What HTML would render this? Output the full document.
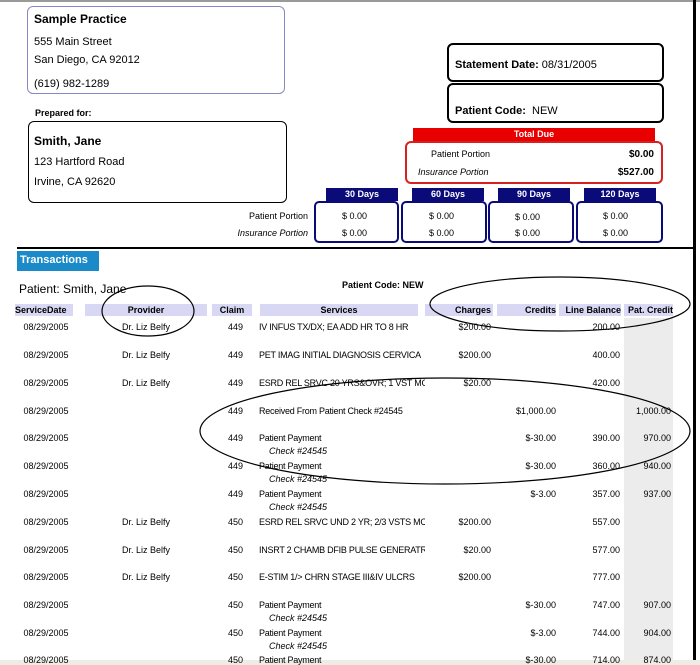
<!DOCTYPE html>
<html><head><meta charset="utf-8"><style>
*{margin:0;padding:0;box-sizing:border-box}
body{width:700px;height:665px;background:#fff;position:relative;overflow:hidden;font-family:"Liberation Sans",sans-serif;color:#000}
.a{position:absolute;white-space:nowrap}
.box{position:absolute;border-radius:6px}
.t9{font-size:9px}
.r{text-align:right}
.c{text-align:center}
.hd{position:absolute;top:304px;height:12px;background:#d8d8f4;font-size:9px;font-weight:bold;line-height:12px}
.nv{position:absolute;top:188px;height:13px;background:#0a0a78;color:#fff;font-size:9px;font-weight:bold;text-align:center;line-height:13px}
.ag{position:absolute;top:201px;height:42px;border:2px solid #0a0a78;border-radius:5px;font-size:10px}
</style></head><body>
<div class="a" style="left:0;top:0;width:700px;height:2px;background:#999"></div>
<div class="a" style="left:693px;top:0;width:3px;height:660px;background:#000"></div>
<div class="a" style="left:0;top:660px;width:700px;height:5px;background:#eeece4"></div>

<div class="box" style="left:27px;top:6px;width:258px;height:88px;border:1px solid #8888c8"></div>
<div class="a" style="left:34px;top:12px;font-size:12px;font-weight:bold">Sample Practice</div>
<div class="a" style="left:34px;top:36px;font-size:11px">555 Main Street</div>
<div class="a" style="left:34px;top:54px;font-size:11px">San Diego, CA 92012</div>
<div class="a" style="left:34px;top:78px;font-size:11px">(619) 982-1289</div>
<div class="a" style="left:35px;top:108px;font-size:9px;font-weight:bold">Prepared for:</div>
<div class="box" style="left:28px;top:121px;width:259px;height:82px;border:1px solid #000"></div>
<div class="a" style="left:34px;top:134px;font-size:12px;font-weight:bold">Smith, Jane</div>
<div class="a" style="left:34px;top:156px;font-size:11px">123 Hartford Road</div>
<div class="a" style="left:34px;top:176px;font-size:11px">Irvine, CA 92620</div>

<div class="box" style="left:447px;top:43px;width:217px;height:39px;border:2px solid #000"></div>
<div class="a" style="left:455px;top:59px;font-size:11px"><b>Statement Date:</b> 08/31/2005</div>
<div class="box" style="left:447px;top:83px;width:217px;height:40px;border:2px solid #000"></div>
<div class="a" style="left:455px;top:105px;font-size:11px"><b>Patient Code:</b> &nbsp;NEW</div>

<div class="a" style="left:413px;top:128px;width:242px;height:13px;background:#e80000;color:#fff;font-size:9px;font-weight:bold;text-align:center;line-height:13px">Total Due</div>
<div class="box" style="left:405px;top:141px;width:258px;height:43px;border:2px solid #d82020"></div>
<div class="a t9" style="left:431px;top:149px">Patient Portion</div>
<div class="a t9" style="left:418px;top:167px;font-style:italic">Insurance Portion</div>
<div class="a r" style="left:580px;width:74px;top:149px;font-size:10px;font-weight:bold">$0.00</div>
<div class="a r" style="left:580px;width:74px;top:167px;font-size:10px;font-weight:bold">$527.00</div>

<div class="nv" style="left:326px;width:72px">30 Days</div>
<div class="nv" style="left:412px;width:72px">60 Days</div>
<div class="nv" style="left:498px;width:72px">90 Days</div>
<div class="nv" style="left:584px;width:72px">120 Days</div>
<div class="ag" style="left:314px;width:85px"></div>
<div class="ag" style="left:401px;width:86px"></div>
<div class="ag" style="left:488px;width:86px"></div>
<div class="ag" style="left:576px;width:87px"></div>
<div class="a t9 r" style="left:200px;width:108px;top:211px">Patient Portion</div>
<div class="a t9 r" style="left:200px;width:108px;top:228px;font-style:italic">Insurance Portion</div>
<div class="a t9" style="left:342px;top:211px">$ 0.00</div><div class="a t9" style="left:342px;top:228px">$ 0.00</div>
<div class="a t9" style="left:429px;top:211px">$ 0.00</div><div class="a t9" style="left:429px;top:228px">$ 0.00</div>
<div class="a t9" style="left:515px;top:212px">$ 0.00</div><div class="a t9" style="left:515px;top:228px">$ 0.00</div>
<div class="a t9" style="left:603px;top:211px">$ 0.00</div><div class="a t9" style="left:603px;top:228px">$ 0.00</div>

<div class="a" style="left:17px;top:247px;width:677px;height:2px;background:#000"></div>
<div class="a" style="left:17px;top:251px;width:82px;height:20px;background:#1a8ac8;color:#fff;font-size:11px;font-weight:bold;line-height:18px;padding-left:3px">Transactions</div>
<div class="a" style="left:19px;top:282px;font-size:12px">Patient: Smith, Jane</div>
<div class="a t9" style="left:342px;top:280px;font-weight:bold">Patient Code: NEW</div>

<div class="hd" style="left:15px;width:58px">ServiceDate</div>
<div class="hd c" style="left:85px;width:122px">Provider</div>
<div class="hd c" style="left:212px;width:40px">Claim</div>
<div class="hd c" style="left:260px;width:158px">Services</div>
<div class="hd r" style="left:425px;width:68px;padding-right:2px">Charges</div>
<div class="hd r" style="left:497px;width:59px">Credits</div>
<div class="hd r" style="left:559px;width:62px">Line Balance</div>
<div class="hd r" style="left:624px;width:49px">Pat. Credit</div>
<div class="a" style="left:624px;top:318px;width:49px;height:342px;background:#ececec"></div>

<div id="rows"></div>
<script>
var R=[
[327,'Dr. Liz Belfy',449,'IV INFUS TX/DX; EA ADD HR TO 8 HR','$200.00','','200.00','',0],
[355,'Dr. Liz Belfy',449,'PET IMAG INITIAL DIAGNOSIS CERVICA','$200.00','','400.00','',0],
[383,'Dr. Liz Belfy',449,'ESRD REL SRVC 20 YRS&OVR; 1 VST MC','$20.00','','420.00','',0],
[411,'',449,'Received From Patient Check #24545','','$1,000.00','','1,000.00',0],
[438,'',449,'Patient Payment','','$-30.00','390.00','970.00',1],
[466,'',449,'Patient Payment','','$-30.00','360.00','940.00',1],
[494,'',449,'Patient Payment','','$-3.00','357.00','937.00',1],
[522,'Dr. Liz Belfy',450,'ESRD REL SRVC UND 2 YR; 2/3 VSTS MC','$200.00','','557.00','',0],
[550,'Dr. Liz Belfy',450,'INSRT 2 CHAMB DFIB PULSE GENERATR','$20.00','','577.00','',0],
[577,'Dr. Liz Belfy',450,'E-STIM 1/> CHRN STAGE III&IV ULCRS','$200.00','','777.00','',0],
[605,'',450,'Patient Payment','','$-30.00','747.00','907.00',1],
[633,'',450,'Patient Payment','','$-3.00','744.00','904.00',1],
[660,'',450,'Patient Payment','','$-30.00','714.00','874.00',0]];
var h='';
R.forEach(function(r){var t=r[0]-5;
h+='<div class="a t9 c" style="left:15px;width:62px;top:'+t+'px">08/29/2005</div>';
h+='<div class="a t9 c" style="left:100px;width:92px;top:'+t+'px">'+r[1]+'</div>';
h+='<div class="a t9" style="left:228px;top:'+t+'px">'+r[2]+'</div>';
h+='<div class="a t9" style="left:259px;top:'+t+'px;width:166px;overflow:hidden;letter-spacing:-0.25px">'+r[3]+'</div>';
h+='<div class="a t9 r" style="left:430px;width:61px;top:'+t+'px">'+r[4]+'</div>';
h+='<div class="a t9 r" style="left:490px;width:66px;top:'+t+'px">'+r[5]+'</div>';
h+='<div class="a t9 r" style="left:560px;width:60px;top:'+t+'px">'+r[6]+'</div>';
h+='<div class="a t9 r" style="left:620px;width:51px;top:'+t+'px">'+r[7]+'</div>';
if(r[8])h+='<div class="a t9" style="left:269px;top:'+(t+13)+'px;font-style:italic">Check #24545</div>';
});
document.getElementById('rows').innerHTML=h;
</script>
<svg class="a" style="left:0;top:0" width="700" height="665">
<g fill="none" stroke="#000" stroke-width="1.2">
<ellipse cx="148" cy="311" rx="46" ry="25"/>
<ellipse cx="560" cy="304" rx="130" ry="27"/>
<ellipse cx="445" cy="431" rx="245" ry="53"/>
</g></svg>
</body></html>
